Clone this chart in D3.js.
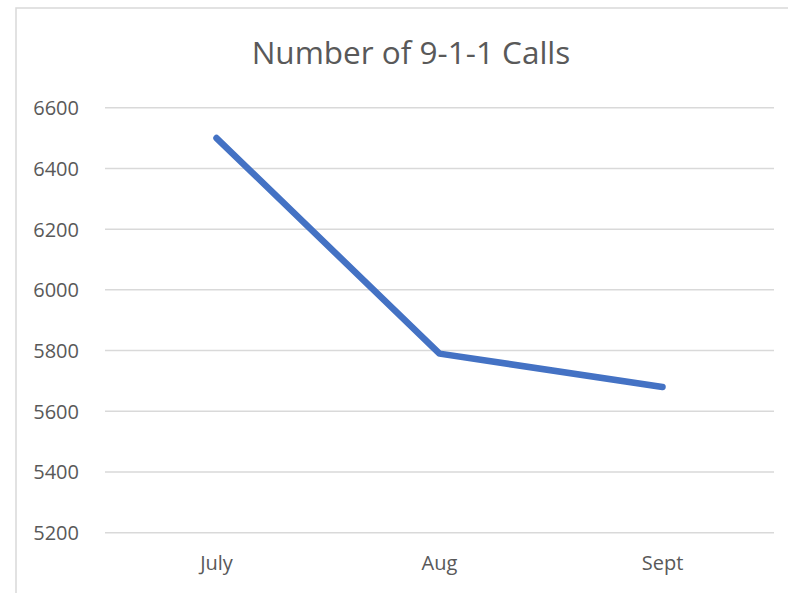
<!DOCTYPE html>
<html>
<head>
    <meta charset="UTF-8">
    <script src="https://d3js.org/d3.v7.min.js"></script>
    <style>
        body { margin: 0; background: #fff; }
        svg { display: block; font-family: "Open Sans", sans-serif; }
        .grid line { stroke: #d9d9d9; stroke-width: 1.5; }
        .axis text { fill: #595959; font-size: 20px; }
        .title { fill: #595959; font-size: 31.5px; }
    </style>
</head>
<body>
    <svg id="chart" width="788" height="593"></svg>

    <script>
        // data
        let months = ["July", "Aug", "Sept"]
        let calls = [6500, 5790, 5680]
        let yTicks = [5200, 5400, 5600, 5800, 6000, 6200, 6400, 6600]

        let margin = {top: 107.7, right: 14, bottom: 60.3, left: 105},
            width = 788 - margin.left - margin.right,
            height = 593 - margin.top - margin.bottom;

        let svg = d3.select("#chart")

        // chart frame (clipped on right and bottom like the source)
        svg.append("rect")
            .attr("x", 16).attr("y", 8)
            .attr("width", 800).attr("height", 620)
            .attr("fill", "none")
            .attr("stroke", "#d9d9d9")
            .attr("stroke-width", 1.5)

        svg.append("text")
            .attr("class", "title")
            .attr("x", 411)
            .attr("y", 63.5)
            .attr("text-anchor", "middle")
            .text("Number of 9-1-1 Calls")

        let chart = svg.append("g")
            .attr("transform", "translate(" + margin.left + "," + margin.top + ")");

        let xScale = d3.scaleBand()
            .domain(months)
            .range([0, width])
        let yScale = d3.scaleLinear()
            .domain([5200, 6600])
            .range([height, 0]);

        // gridlines
        chart.append("g")
            .attr("class", "grid")
            .selectAll("line")
            .data(yTicks)
            .join("line")
            .attr("x1", 0)
            .attr("x2", width)
            .attr("y1", d => yScale(d))
            .attr("y2", d => yScale(d))

        // y-axis labels
        let yAxis = chart.append("g")
            .attr("class", "axis axis-y")
            .attr("transform", "translate(-23,0)")
            .call(d3.axisLeft(yScale).tickValues(yTicks).tickSize(0).tickFormat(d3.format("d")))
        yAxis.attr("font-family", null).attr("font-size", null)
        yAxis.select(".domain").remove()
        yAxis.selectAll("text").attr("dy", "0.35em")

        // x-axis labels
        let xAxis = chart.append("g")
            .attr("class", "axis axis-x")
            .attr("transform", "translate(0," + height + ")")
            .call(d3.axisBottom(xScale).tickSize(0).tickPadding(23))
        xAxis.attr("font-family", null).attr("font-size", null)
        xAxis.select(".domain").remove()

        let line = d3.line()
            .x((d, i) => xScale(months[i]) + xScale.bandwidth() / 2)
            .y(d => yScale(d))

        chart.append("path")
            .datum(calls)
            .attr("d", line)
            .attr("fill", "none")
            .attr("stroke", "#4472c4")
            .attr("stroke-width", 6.5)
            .attr("stroke-linecap", "round")
            .attr("stroke-linejoin", "round")
    </script>
</body>
</html>
